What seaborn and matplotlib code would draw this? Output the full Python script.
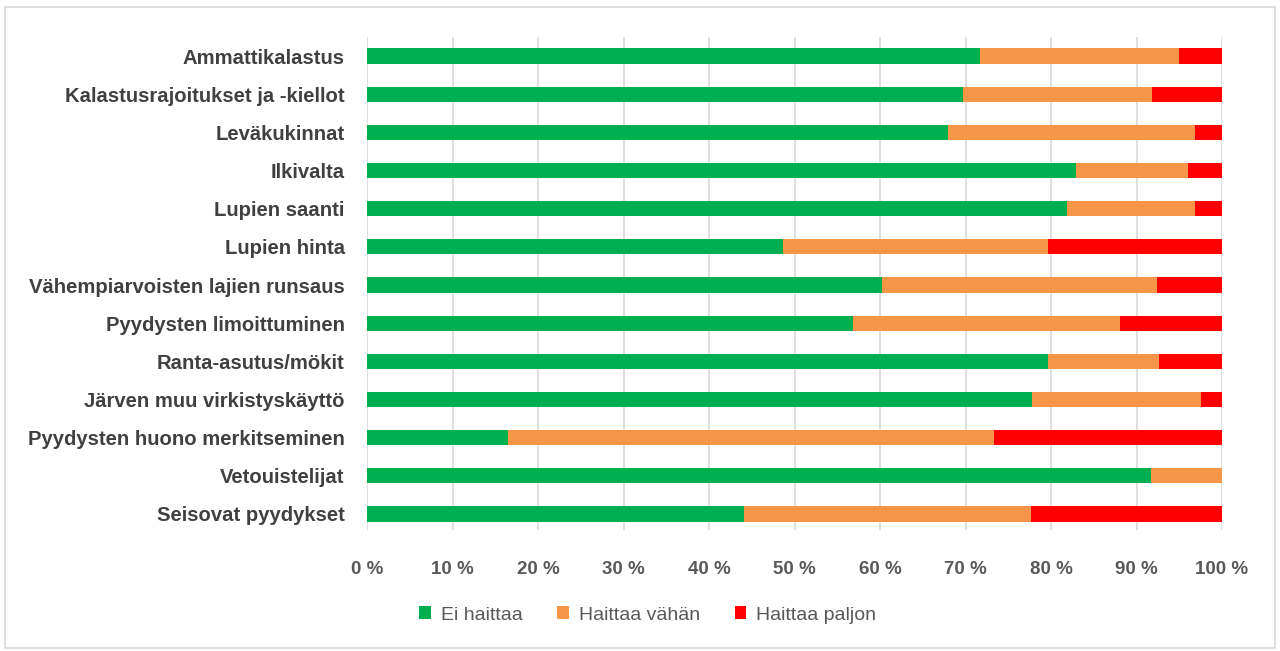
import matplotlib
matplotlib.use("Agg")
import matplotlib.pyplot as plt
import seaborn as sns
import pandas as pd
from matplotlib.patches import Rectangle, Patch

categories = [
    "Ammattikalastus",
    "Kalastusrajoitukset ja -kiellot",
    "Leväkukinnat",
    "Ilkivalta",
    "Lupien saanti",
    "Lupien hinta",
    "Vähempiarvoisten lajien runsaus",
    "Pyydysten limoittuminen",
    "Ranta-asutus/mökit",
    "Järven muu virkistyskäyttö",
    "Pyydysten huono merkitseminen",
    "Vetouistelijat",
    "Seisovat pyydykset",
]
ei_haittaa = [71.7, 69.7, 68.0, 82.9, 81.9, 48.7, 60.2, 56.8, 79.6, 77.8, 16.5, 91.7, 44.1]
haittaa_vahan = [23.3, 22.1, 28.9, 13.1, 14.9, 31.0, 32.2, 31.3, 13.0, 19.8, 56.8, 8.3, 33.6]
haittaa_paljon = [5.0, 8.2, 3.1, 4.0, 3.2, 20.3, 7.6, 11.9, 7.4, 2.4, 26.7, 0.0, 22.3]
series_names = ["Ei haittaa", "Haittaa vähän", "Haittaa paljon"]
tick_values = [0, 10, 20, 30, 40, 50, 60, 70, 80, 90, 100]
tick_labels = [f"{v} %" for v in tick_values]

colors = ["#00b050", "#f79646", "#ff0000"]

df = pd.DataFrame({
    "cat": categories,
    "s1": ei_haittaa,
    "s2": [a + b for a, b in zip(ei_haittaa, haittaa_vahan)],
    "s3": [a + b + c for a, b, c in zip(ei_haittaa, haittaa_vahan, haittaa_paljon)],
})

sns.set_theme(style="white")
plt.rcParams["font.family"] = ["Liberation Sans", "DejaVu Sans"]

fig = plt.figure(figsize=(12.8, 6.51), dpi=100)
ax = fig.add_axes([367 / 1280, 1 - 530 / 651, (1222 - 367) / 1280, (530 - 37) / 651])

for col, c in zip(["s3", "s2", "s1"], colors[::-1]):
    sns.barplot(data=df, y="cat", x=col, color=c, orient="h", width=0.4,
                ax=ax, saturation=1, edgecolor="none", linewidth=0, zorder=3)

ax.set_xlim(0, 100)
ax.set_ylim(12.42, -0.5)
ax.set_xticks(tick_values)
ax.set_xticklabels(tick_labels)
ax.set_xlabel("")
ax.set_ylabel("")
ax.grid(axis="x", color="#d9d9d9", linewidth=1.2, zorder=0)
ax.grid(axis="y", visible=False)
for s in ax.spines.values():
    s.set_visible(False)
ax.tick_params(axis="x", length=0, pad=22, labelsize=13.5, labelcolor="#595959")
ax.tick_params(axis="y", length=0, pad=16, labelsize=14.6, labelcolor="#404040")
for t in ax.get_xticklabels():
    t.set_fontweight("bold")
for t in ax.get_yticklabels():
    t.set_fontweight("bold")

handles = [Patch(facecolor=c, edgecolor="none", label=n) for c, n in zip(colors, series_names)]
fig.legend(handles=handles, loc="center", bbox_to_anchor=(0.506, 1 - 615 / 651), ncol=3,
           frameon=False, fontsize=14, handlelength=0.6, handleheight=0.6,
           handletextpad=0.5, columnspacing=1.8, labelcolor="#595959")

fig.patches.append(Rectangle((5 / 1280, 3 / 651), 1270 / 1280, 641 / 651, transform=fig.transFigure,
                             fill=False, edgecolor="#d9d9d9", linewidth=1.2))

fig.savefig("out.png", dpi=100)
